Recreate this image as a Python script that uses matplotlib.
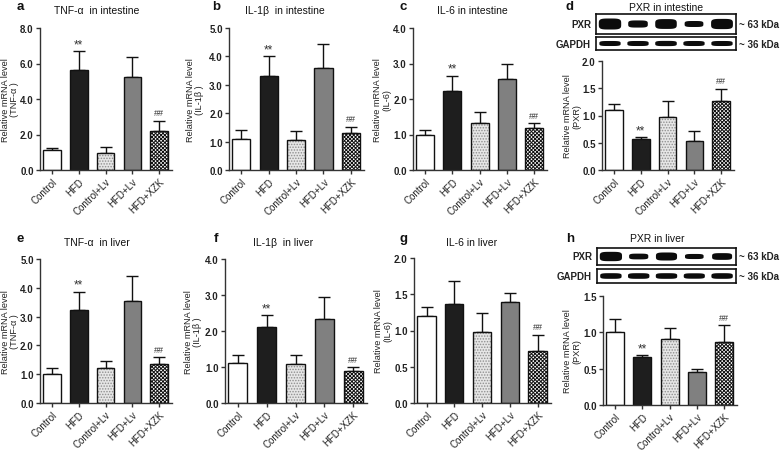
import numpy as np
import matplotlib
matplotlib.use("Agg")
import matplotlib.pyplot as plt

plt.rcParams['font.family'] = ['Liberation Sans', 'DejaVu Sans']
plt.rcParams['hatch.linewidth'] = 0.7

W, H = 780, 452

groups = ["Control", "HFD", "Control+Lv", "HFD+Lv", "HFD+XZK"]

# means and upper error (SD)
tnf_int = [1.11, 5.61, 0.98, 5.24, 2.22]
tnf_int_err = [0.11, 1.11, 0.32, 1.11, 0.56]
il1b_int = [1.10, 3.30, 1.07, 3.60, 1.30]
il1b_int_err = [0.32, 0.72, 0.29, 0.83, 0.23]
il6_int = [1.00, 2.23, 1.32, 2.55, 1.17]
il6_int_err = [0.12, 0.43, 0.32, 0.45, 0.15]
pxr_int = [1.10, 0.57, 0.97, 0.53, 1.27]
pxr_int_err = [0.11, 0.04, 0.30, 0.19, 0.22]

tnf_liv = [1.00, 3.22, 1.21, 3.55, 1.35]
tnf_liv_err = [0.20, 0.65, 0.24, 0.87, 0.23]
il1b_liv = [1.10, 2.10, 1.09, 2.32, 0.88]
il1b_liv_err = [0.23, 0.34, 0.25, 0.62, 0.12]
il6_liv = [1.20, 1.36, 0.98, 1.39, 0.72]
il6_liv_err = [0.13, 0.32, 0.26, 0.13, 0.22]
pxr_liv = [1.00, 0.66, 0.91, 0.45, 0.87]
pxr_liv_err = [0.18, 0.03, 0.15, 0.05, 0.23]

# western blot band strength per lane
blot_pxr_int = [1.0, 0.5, 0.85, 0.35, 0.9]
blot_gapdh_int = [0.8, 0.8, 0.85, 0.8, 0.8]
blot_pxr_liv = [1.0, 0.45, 0.8, 0.35, 0.6]
blot_gapdh_liv = [0.85, 0.85, 0.85, 0.8, 0.85]

bar_face = ["white", "#1e1e1e", "#e6e6e6", "#808080", "white"]
bar_hatch = [None, None, "......", None, "xxxxxxxxx"]
hatch_col = [None, None, "#8f8f8f", None, "#111111"]


def px_box(x0, y0, x1, y1):
    return [x0 / W, 1 - y1 / H, (x1 - x0) / W, (y1 - y0) / H]


def ftext(x, y, s, **kw):
    fig.text(x / W, 1 - y / H, s, **kw)


def bar_panel(rect, vals, errs, yticks, ylab, stars, hashes):
    ax = fig.add_axes(px_box(*rect))
    x = np.arange(len(vals))
    for i in range(len(vals)):
        if bar_hatch[i]:
            ax.bar(x[i], vals[i], 0.66, color=bar_face[i], hatch=bar_hatch[i],
                   edgecolor=hatch_col[i], linewidth=0, zorder=2)
            ax.bar(x[i], vals[i], 0.66, facecolor="none", edgecolor="#111111",
                   linewidth=1.0, zorder=3)
        else:
            ax.bar(x[i], vals[i], 0.66, color=bar_face[i], edgecolor="#111111",
                   linewidth=1.0, zorder=2)
    ax.errorbar(x, vals, yerr=[np.zeros(len(vals)), errs], fmt="none",
                ecolor="#111111", elinewidth=1.0, capsize=4.5, capthick=1.0, zorder=1)
    top = np.array(vals) + np.array(errs)
    if stars:
        ax.annotate("**", (1, top[1]), xytext=(0, 0.5), textcoords="offset points",
                    ha="center", va="bottom", fontsize=8.5, color="#333333")
    if hashes:
        ax.annotate("##", (4, top[4]), xytext=(0, 2.5), textcoords="offset points",
                    ha="center", va="bottom", fontsize=6.5, color="#333333")
    ax.set_xlim(-0.45, 4.48)
    ax.set_ylim(yticks[0], yticks[-1])
    ax.set_yticks(yticks)
    ax.set_yticklabels(["%.1f" % t for t in yticks], fontsize=7, fontweight="bold",
                       color="#222222")
    ax.set_xticks(x)
    ax.set_xticklabels(groups, rotation=45, ha="right", rotation_mode="anchor",
                       fontsize=7, color="#222222")
    for s in ["top", "right"]:
        ax.spines[s].set_visible(False)
    for s in ["left", "bottom"]:
        ax.spines[s].set_linewidth(1.0)
        ax.spines[s].set_color("#333333")
    ax.tick_params(axis="both", direction="out", length=3, width=1.0,
                   color="#333333", pad=1.5)
    lx, ly = ylab
    ftext(lx, (rect[1] + rect[3]) / 2, "Relative mRNA level\n" + ly,
          rotation=90, ha="center", va="center", fontsize=6.6, color="#222222",
          linespacing=1.05)
    return ax


def band_shape(c, half_w, half_h, n=4):
    t = np.linspace(0, 2 * np.pi, 120)
    ct, st = np.cos(t), np.sin(t)
    xs = c + half_w * np.sign(ct) * np.abs(ct) ** (2 / n)
    ys = half_h * np.sign(st) * np.abs(st) ** (2 / n)
    return xs, ys


def blot(rect, strength, label, kda, thick):
    ax = fig.add_axes(px_box(*rect))
    for i, s in enumerate(strength):
        xs, ys = band_shape(i, 0.3 + 0.1 * s, thick * (0.3 + 0.7 * s))
        ax.fill(xs, ys, color="#0c0c0c", lw=0)
    ax.set_xlim(-0.5, 4.5)
    ax.set_ylim(-1, 1)
    ax.set_xticks([])
    ax.set_yticks([])
    for s in ax.spines.values():
        s.set_linewidth(1.2)
        s.set_color("#111111")
    yc = (rect[1] + rect[3]) / 2
    ftext(rect[0] - 5, yc, label, ha="right", va="center", fontsize=7,
          fontweight="bold", color="#222222")
    ftext(rect[2] + 3, yc, "~ " + kda + " kDa", ha="left", va="center",
          fontsize=7, fontweight="bold", color="#222222")


fig = plt.figure(figsize=(W / 100, H / 100), dpi=100)

# top row: intestine
bar_panel((40, 29, 172, 171), tnf_int, tnf_int_err, [0, 2, 4, 6, 8],
          (10, "(TNF-\u03b1 )"), True, True)
bar_panel((229, 29, 364, 171), il1b_int, il1b_int_err, [0, 1, 2, 3, 4, 5],
          (195, "(IL-1\u03b2 )"), True, True)
bar_panel((413, 29, 547, 171), il6_int, il6_int_err, [0, 1, 2, 3, 4],
          (382, "(IL-6)"), True, True)
bar_panel((602, 62, 734, 171), pxr_int, pxr_int_err, [0, 0.5, 1.0, 1.5, 2.0],
          (572, "(PXR)"), True, True)
blot((596, 15, 736, 35), blot_pxr_int, "PXR", "63", 0.55)
blot((596, 38, 736, 51), blot_gapdh_int, "GAPDH", "36", 0.45)

# bottom row: liver
bar_panel((40, 260, 172, 404), tnf_liv, tnf_liv_err, [0, 1, 2, 3, 4, 5],
          (10, "(TNF-\u03b1 )"), True, True)
bar_panel((225, 260, 367, 404), il1b_liv, il1b_liv_err, [0, 1, 2, 3, 4],
          (193, "(IL-1\u03b2 )"), True, True)
bar_panel((414, 259, 551, 404), il6_liv, il6_liv_err, [0, 0.5, 1.0, 1.5, 2.0],
          (383, "(IL-6)"), False, True)
bar_panel((603, 297, 737, 406), pxr_liv, pxr_liv_err, [0, 0.5, 1.0, 1.5],
          (572, "(PXR)"), True, True)
blot((597, 249, 736, 266), blot_pxr_liv, "PXR", "63", 0.55)
blot((597, 270, 736, 284), blot_gapdh_liv, "GAPDH", "36", 0.45)

titles = [(97, 11, "TNF-\u03b1  in intestine"), (285, 11, "IL-1\u03b2  in intestine"),
          (472, 11, "IL-6 in intestine"), (666, 8, "PXR in intestine"),
          (97, 243, "TNF-\u03b1  in liver"), (283, 243, "IL-1\u03b2  in liver"),
          (472, 243, "IL-6 in liver"), (657, 239, "PXR in liver")]
for x, y, s in titles:
    ftext(x, y, s, ha="center", va="center", fontsize=7.5, color="#111111")

letters = [(20, 7, "a"), (216, 7, "b"), (403, 7, "c"), (570, 7, "d"),
           (20, 239, "e"), (216, 239, "f"), (403, 239, "g"), (570, 239, "h")]
for x, y, s in letters:
    ftext(x, y, s, ha="center", va="center", fontsize=9.5, fontweight="bold",
          color="#111111")

fig.savefig("out.png", dpi=100)
